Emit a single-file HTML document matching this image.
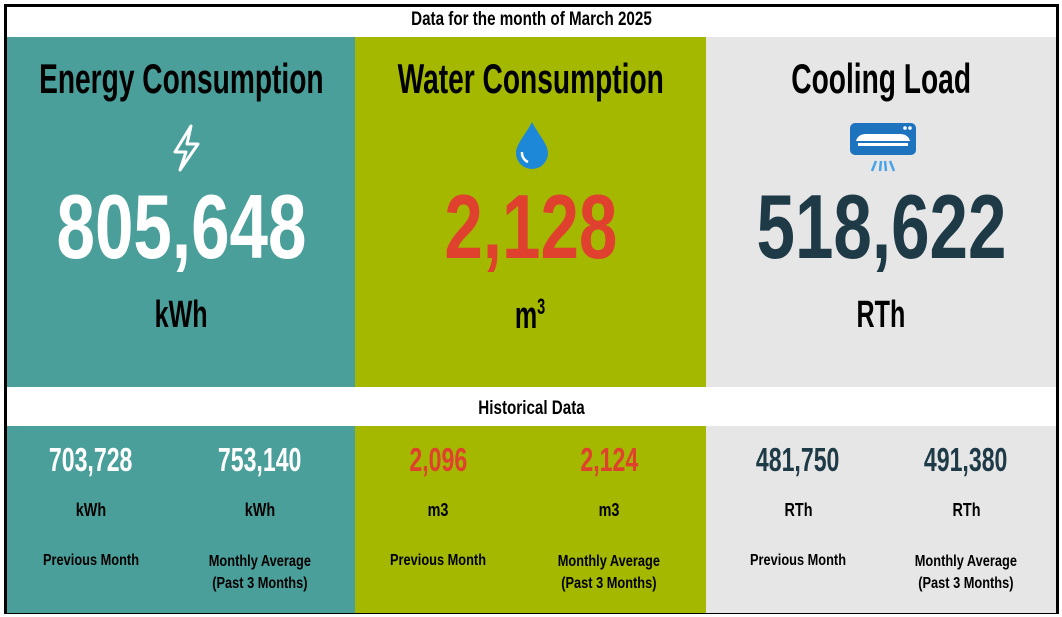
<!DOCTYPE html>
<html><head><meta charset="utf-8"><style>
*{margin:0;padding:0;box-sizing:border-box}
body{width:1062px;height:617px;background:#fff;position:relative;overflow:hidden;font-family:"Liberation Sans",sans-serif;font-weight:bold}
.box{position:absolute}
.t{position:absolute;left:0;width:100%;display:flex;justify-content:center;text-align:center;white-space:nowrap;line-height:1}
.t span{display:inline-block;transform-origin:center;flex:none}
</style></head><body>
<div class="box" style="left:4px;top:4px;width:1055px;height:610px;border:3px solid #000"></div>
<div class="box" style="left:7px;top:7px;width:1049px;height:30px">
 <div class="t" style="top:3px;font-size:19px;color:#000"><span style="transform:scaleX(0.8)">Data for the month of March 2025</span></div></div>
<div class="box" style="left:7px;top:37px;width:348px;height:350px;background:#4a9f9a">
 <div class="t" style="top:21px;font-size:42px;color:#000"><span style="transform:scaleX(0.67)">Energy Consumption</span></div>
 <svg style="position:absolute;left:162px;top:87px" width="34" height="50" viewBox="0 0 34 50"><path d="M22 2 L6 28 L17 28 L11 46 L29 20 L18 20 Z" fill="none" stroke="#fff" stroke-width="3" stroke-linejoin="round"/></svg>
 <div class="t" style="top:145px;font-size:91px;color:#fff"><span style="transform:scaleX(0.76)">805,648</span></div>
 <div class="t" style="top:259px;font-size:38px;color:#000"><span style="transform:scaleX(0.66)">kWh</span></div>
</div>
<div class="box" style="left:355px;top:37px;width:351px;height:350px;background:#a5b800">
 <div class="t" style="top:21px;font-size:42px;color:#000"><span style="transform:scaleX(0.67)">Water Consumption</span></div>
 <svg style="position:absolute;left:159px;top:83px" width="36" height="50" viewBox="0 0 36 50"><path d="M18 2 C12 14 2 24 2 33 A16 16 0 0 0 34 33 C34 24 24 14 18 2Z" fill="#1e88d8"/><path d="M8 32 A10 10 0 0 0 14 42" stroke="#fff" stroke-width="2.5" fill="none"/></svg>
 <div class="t" style="top:145px;font-size:91px;color:#e0402e"><span style="transform:scaleX(0.76)">2,128</span></div>
 <div class="t" style="top:259px;font-size:38px;color:#000"><span style="transform:scaleX(0.66)">m<sup style="font-size:22px;vertical-align:14px">3</sup></span></div>
</div>
<div class="box" style="left:706px;top:37px;width:350px;height:350px;background:#e6e6e6">
 <div class="t" style="top:21px;font-size:42px;color:#000"><span style="transform:scaleX(0.67)">Cooling Load</span></div>
 <svg style="position:absolute;left:142px;top:84px" width="70" height="55" viewBox="0 0 70 55"><rect x="2" y="2" width="66" height="32" rx="5" fill="#1e73be"/><circle cx="57" cy="7" r="1.8" fill="#fff"/><circle cx="62" cy="7" r="1.8" fill="#fff"/><path d="M8 20 Q10 13 18 13 L52 13 Q60 13 62 20 Z" fill="#fff"/><rect x="10" y="22" width="50" height="3" fill="#fff"/><path d="M28 40 L24 50 M33 40 L32 50 M37 40 L38 50 M42 40 L46 50" stroke="#4aa3e8" stroke-width="2.5"/></svg>
 <div class="t" style="top:145px;font-size:91px;color:#1e3a47"><span style="transform:scaleX(0.76)">518,622</span></div>
 <div class="t" style="top:259px;font-size:38px;color:#000"><span style="transform:scaleX(0.66)">RTh</span></div>
</div>
<div class="box" style="left:7px;top:387px;width:1049px;height:39px">
 <div class="t" style="top:12px;font-size:19px;color:#000"><span style="transform:scaleX(0.8)">Historical Data</span></div></div>
<div class="box" style="left:7px;top:426px;width:348px;height:187px;background:#4a9f9a"></div>
<div class="box" style="left:355px;top:426px;width:351px;height:187px;background:#a5b800"></div>
<div class="box" style="left:706px;top:426px;width:350px;height:187px;background:#e6e6e6"></div>

<div class="box" style="left:0;top:426px;width:1062px;height:187px">
 <div class="box" style="left:11px;width:160px;top:0;height:187px">
  <div class="t" style="top:17px;font-size:33px;color:#fff"><span style="transform:scaleX(0.7)">703,728</span></div>
  <div class="t" style="top:75px;font-size:18px;color:#000"><span style="transform:scaleX(0.8)">kWh</span></div>
  <div class="t" style="top:127px;font-size:16px;color:#000"><span style="transform:scaleX(0.8)">Previous Month</span></div></div>
 <div class="box" style="left:180px;width:160px;top:0;height:187px">
  <div class="t" style="top:17px;font-size:33px;color:#fff"><span style="transform:scaleX(0.7)">753,140</span></div>
  <div class="t" style="top:75px;font-size:18px;color:#000"><span style="transform:scaleX(0.8)">kWh</span></div>
  <div class="t" style="top:125px;font-size:16px;color:#000;line-height:22px"><span style="transform:scaleX(0.8)">Monthly Average<br>(Past 3 Months)</span></div></div>
 <div class="box" style="left:358px;width:160px;top:0;height:187px">
  <div class="t" style="top:17px;font-size:33px;color:#e0402e"><span style="transform:scaleX(0.7)">2,096</span></div>
  <div class="t" style="top:75px;font-size:18px;color:#000"><span style="transform:scaleX(0.8)">m3</span></div>
  <div class="t" style="top:127px;font-size:16px;color:#000"><span style="transform:scaleX(0.8)">Previous Month</span></div></div>
 <div class="box" style="left:529px;width:160px;top:0;height:187px">
  <div class="t" style="top:17px;font-size:33px;color:#e0402e"><span style="transform:scaleX(0.7)">2,124</span></div>
  <div class="t" style="top:75px;font-size:18px;color:#000"><span style="transform:scaleX(0.8)">m3</span></div>
  <div class="t" style="top:125px;font-size:16px;color:#000;line-height:22px"><span style="transform:scaleX(0.8)">Monthly Average<br>(Past 3 Months)</span></div></div>
 <div class="box" style="left:718px;width:160px;top:0;height:187px">
  <div class="t" style="top:17px;font-size:33px;color:#1e3a47"><span style="transform:scaleX(0.7)">481,750</span></div>
  <div class="t" style="top:75px;font-size:18px;color:#000"><span style="transform:scaleX(0.8)">RTh</span></div>
  <div class="t" style="top:127px;font-size:16px;color:#000"><span style="transform:scaleX(0.8)">Previous Month</span></div></div>
 <div class="box" style="left:886px;width:160px;top:0;height:187px">
  <div class="t" style="top:17px;font-size:33px;color:#1e3a47"><span style="transform:scaleX(0.7)">491,380</span></div>
  <div class="t" style="top:75px;font-size:18px;color:#000"><span style="transform:scaleX(0.8)">RTh</span></div>
  <div class="t" style="top:125px;font-size:16px;color:#000;line-height:22px"><span style="transform:scaleX(0.8)">Monthly Average<br>(Past 3 Months)</span></div></div>
</div>
</body></html>
